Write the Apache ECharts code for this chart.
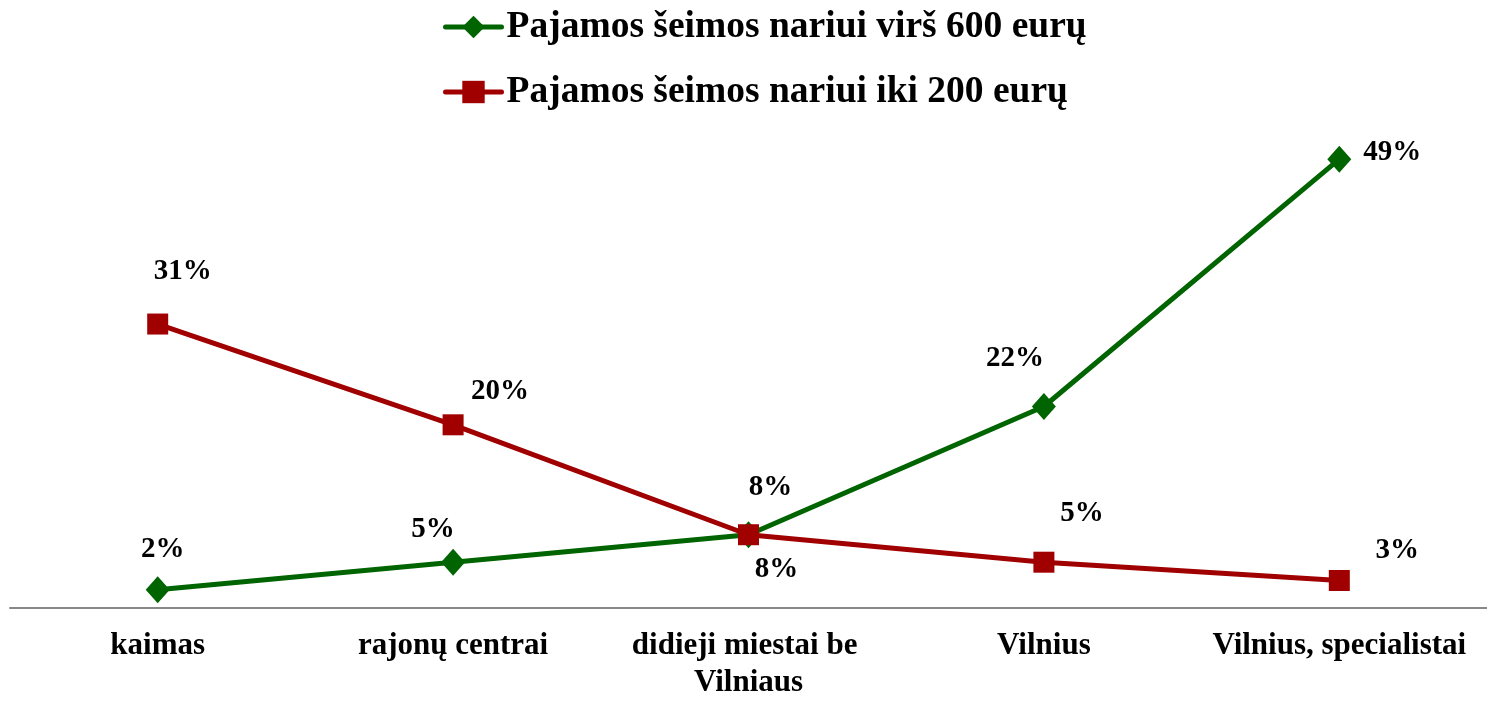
<!DOCTYPE html>
<html>
<head>
<meta charset="utf-8">
<script src="https://cdn.jsdelivr.net/npm/echarts@6/dist/echarts.min.js"></script>
<style>
html,body{margin:0;padding:0;background:#fff;}
#chart{width:1487px;height:701px;}
</style>
</head>
<body>
<div id="chart"></div>
<script>
const categories = ['kaimas', 'rajonų centrai', 'didieji miestai be Vilniaus', 'Vilnius', 'Vilnius, specialistai'];
const seriesNames = ['Pajamos šeimos nariui virš 600 eurų', 'Pajamos šeimos nariui iki 200 eurų'];
const highIncome = [2, 5, 8, 22, 49];
const lowIncome = [31, 20, 8, 5, 3];

// label placement (style only)
const highOffsets = [[5, -40], [-20, -33], [22, -47], [-29, -48], [53, -7]];
const lowOffsets = [[25, -53], [47, -33], [28, 35], [38, -49], [58, -30]];

const FONT = '"Liberation Serif", "Times New Roman", serif';
const GREEN = '#006400';
const RED = '#A00000';

function withLabels(values, offsets) {
  return values.map((v, i) => ({
    value: v,
    label: { offset: offsets[i] }
  }));
}

const labelStyle = {
  show: true,
  position: 'inside',
  formatter: p => p.value + '%',
  fontFamily: FONT,
  fontWeight: 'bold',
  fontSize: 29,
  color: '#000'
};

const chart = echarts.init(document.getElementById('chart'), null, { renderer: 'canvas' });
chart.setOption({
  animation: false,
  backgroundColor: '#fff',
  legend: {
    orient: 'vertical',
    left: 438,
    top: 2,
    itemWidth: 56,
    itemHeight: 28,
    itemGap: 25,
    textStyle: { fontFamily: FONT, fontWeight: 'bold', fontSize: 37.5, color: '#000', lineHeight: 40 },
    data: [
      { name: seriesNames[0], itemStyle: { color: GREEN }, lineStyle: { color: GREEN, width: 5, cap: 'round' } },
      { name: seriesNames[1], itemStyle: { color: RED }, lineStyle: { color: RED, width: 5, cap: 'round' } }
    ]
  },
  grid: { left: 10, right: 0, top: 150, bottom: 90, containLabel: false },
  xAxis: {
    type: 'category',
    data: categories,
    boundaryGap: true,
    axisLine: { show: true, lineStyle: { color: '#888', width: 2 } },
    axisTick: { show: false },
    axisLabel: {
      interval: 0,
      margin: 19,
      width: 285,
      overflow: 'break',
      fontFamily: FONT,
      fontWeight: 'bold',
      fontSize: 31,
      lineHeight: 37,
      color: '#000'
    }
  },
  yAxis: {
    type: 'value',
    min: 0,
    max: 50,
    show: false,
    splitLine: { show: false }
  },
  series: [
    {
      name: seriesNames[0],
      type: 'line',
      data: withLabels(highIncome, highOffsets),
      symbol: 'diamond',
      symbolSize: [24, 27],
      lineStyle: { color: GREEN, width: 5 },
      itemStyle: { color: GREEN },
      label: labelStyle,
      z: 2
    },
    {
      name: seriesNames[1],
      type: 'line',
      data: withLabels(lowIncome, lowOffsets),
      symbol: 'rect',
      symbolSize: 21,
      lineStyle: { color: RED, width: 5 },
      itemStyle: { color: RED },
      label: labelStyle,
      z: 3
    }
  ]
});
</script>
</body>
</html>
